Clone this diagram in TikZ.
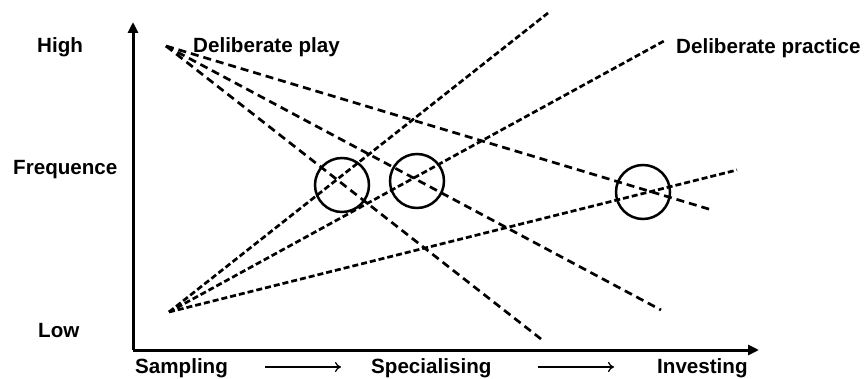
\documentclass[tikz,border=0pt]{standalone}
\usepackage{fontspec}
\setmainfont{Liberation Sans}
\usetikzlibrary{arrows.meta}
\begin{document}
\begin{tikzpicture}[x=1pt,y=-1pt,
  lbl/.style={font=\fontsize{20.6}{24}\selectfont\bfseries, inner sep=0pt, anchor=base west},
  axis/.style={line width=3pt, -{Triangle[length=11pt,width=10pt]}},
  stagearrow/.style={line width=1.3pt, -{To[length=6pt,width=10pt]}},
  longdash/.style={line width=2.7pt, dash pattern=on 8pt off 5pt},
  shortdash/.style={line width=2.7pt, dash pattern=on 6pt off 3pt},
  ring/.style={circle, draw, line width=2.5pt, minimum size=54pt, inner sep=0pt}]
\useasboundingbox (0,0) rectangle (867,379);
% axes
\coordinate (O) at (133,350);
\coordinate (Ytip) at (133,22);
\coordinate (Xtip) at (759,350);
\draw[axis] (O) -- (Ytip);
\draw[axis] (O) -- (Xtip);
% labels
\node[lbl] (high) at (37,53) {High};
\node[lbl] (freq) at (13,175) {Frequence};
\node[lbl] (low) at (38,337) {Low};
\node[lbl] (samp) at (135,373) {Sampling};
\node[lbl] (spec) at (371,373) {Specialising};
\node[lbl] (inv) at (657,373) {Investing};
\node[lbl] (dplay) at (193,53) {Deliberate play};
\node[lbl] (dprac) at (676,54) {Deliberate practice};
% stage arrows
\coordinate (a1s) at (265,367); \coordinate (a1e) at (341,367);
\coordinate (a2s) at (538,367); \coordinate (a2e) at (614,367);
\draw[stagearrow] (a1s) -- (a1e);
\draw[stagearrow] (a2s) -- (a2e);
% deliberate play lines
\coordinate (TL) at (166,46);
\coordinate (p1) at (712,210);
\coordinate (p2) at (661,310);
\coordinate (p3) at (541,339);
\draw[longdash] (TL) -- (p1);
\draw[longdash] (TL) -- (p2);
\draw[longdash] (TL) -- (p3);
% deliberate practice lines
\coordinate (BL) at (169,312);
\coordinate (q1) at (548,13);
\coordinate (q2) at (664,41);
\coordinate (q3) at (737,170);
\draw[shortdash] (BL) -- (q1);
\draw[shortdash] (BL) -- (q2);
\draw[shortdash] (BL) -- (q3);
% circles
\node[ring] (c1) at (342,185) {};
\node[ring] (c2) at (417,181) {};
\node[ring] (c3) at (643,192) {};
\end{tikzpicture}
\end{document}
